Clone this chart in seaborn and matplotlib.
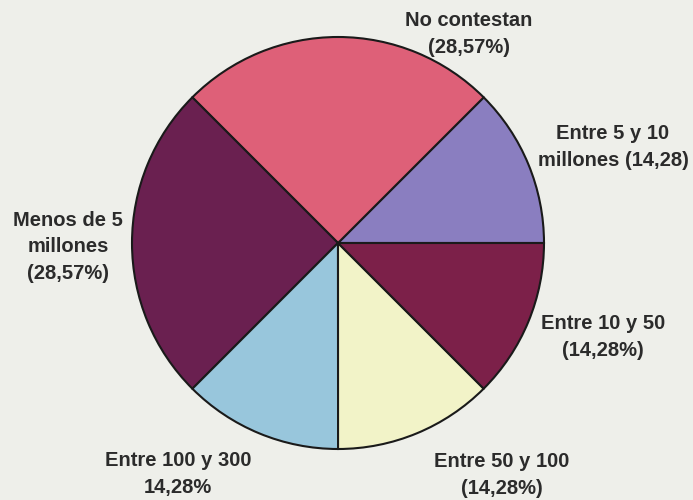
import matplotlib
matplotlib.use("Agg")
import matplotlib.pyplot as plt
import seaborn as sns

# Data (counterclockwise from 0 degrees)
categories = ["Entre 5 y 10", "No contestan", "Menos de 5 millones",
              "Entre 100 y 300", "Entre 50 y 100", "Entre 10 y 50"]
values = [14.28, 28.57, 28.57, 14.28, 14.28, 14.28]
labels = ["Entre 5 y 10\nmillones (14,28)",
          "No contestan\n(28,57%)",
          "Menos de 5\nmillones\n(28,57%)",
          "Entre 100 y 300\n14,28%",
          "Entre 50 y 100\n(14,28%)",
          "Entre 10 y 50\n(14,28%)"]
colors = ["#8A7EC0", "#DE6078", "#6A2050", "#98C6DC", "#F2F3C8", "#7C2049"]

sns.set_style("white")
plt.rcParams['font.family'] = ['Liberation Sans', 'DejaVu Sans']

bg = "#EEEFEA"
fig = plt.figure(figsize=(6.93, 5.0), dpi=100, facecolor=bg)
ax = fig.add_axes([0, 0, 1, 1])
ax.set_facecolor(bg)

cx, cy, r = 338, 500 - 243, 206
ax.pie(values, colors=colors, startangle=0, counterclock=True,
       center=(cx, cy), radius=r, frame=True,
       wedgeprops=dict(edgecolor="#1a1a1a", linewidth=1.5))
ax.set_xlim(0, 693)
ax.set_ylim(0, 500)
ax.set_aspect("equal")
ax.axis("off")

# label positions (pixel coords from top)
pos = [(613, 147), (469, 34), (68, 247), (178, 474), (502, 475), (603, 337)]
for lab, (x, y) in zip(labels, pos):
    ax.text(x, 500 - y, lab, ha="center", va="center", fontsize=14.5,
            fontweight="bold", color="#2b2b2b", linespacing=1.5)

fig.savefig("out.png", dpi=100, facecolor=bg)
